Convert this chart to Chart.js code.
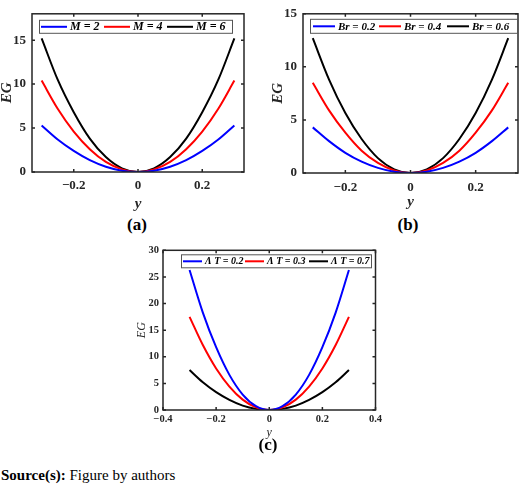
<!DOCTYPE html>
<html>
<head>
<meta charset="utf-8">
<script src="https://cdn.jsdelivr.net/npm/chart.js@4.4.1/dist/chart.umd.min.js"></script>
<style>
  body { margin: 0; background: #fff; width: 520px; height: 486px; position: relative; overflow: hidden; }
  canvas { position: absolute; }
  .cap { position: absolute; font: bold 17px 'Liberation Serif', serif; transform: translate(-50%, -50%); color: #000; }
  .source { position: absolute; left: 1px; top: 467px; font: 15px 'Liberation Serif', serif; color: #000; }
</style>
</head>
<body>
<canvas id="chartA" width="252" height="215" style="left:0;top:0"></canvas>
<canvas id="chartB" width="249" height="215" style="left:271px;top:0"></canvas>
<canvas id="chartC" width="259" height="200" style="left:133px;top:240px"></canvas>
<div class="cap" style="left:137px;top:225px">(a)</div>
<div class="cap" style="left:408px;top:225px">(b)</div>
<div class="cap" style="left:268px;top:445px">(c)</div>
<div class="source"><b>Source(s):</b> Figure by authors</div>

<script>
// y positions where the curves were read
const yPos = [-0.3, -0.25, -0.2, -0.15, -0.1, -0.05, 0, 0.05, 0.1, 0.15, 0.2, 0.25, 0.3];

// (a) EG for M = 2, 4, 6
const egM2 = [5.3, 3.7, 2.4, 1.35, 0.6, 0.15, 0, 0.15, 0.6, 1.35, 2.4, 3.7, 5.3];
const egM4 = [10.4, 7.2, 4.6, 2.6, 1.15, 0.3, 0, 0.3, 1.15, 2.6, 4.6, 7.2, 10.4];
const egM6 = [15.2, 10.5, 6.8, 3.8, 1.7, 0.42, 0, 0.42, 1.7, 3.8, 6.8, 10.5, 15.2];

// (b) EG for Br = 0.2, 0.4, 0.6
const egBr02 = [4.3, 3.0, 1.9, 1.07, 0.48, 0.12, 0, 0.12, 0.48, 1.07, 1.9, 3.0, 4.3];
const egBr04 = [8.5, 5.9, 3.8, 2.1, 0.95, 0.24, 0, 0.24, 0.95, 2.1, 3.8, 5.9, 8.5];
const egBr06 = [12.7, 8.8, 5.65, 3.2, 1.4, 0.35, 0, 0.35, 1.4, 3.2, 5.65, 8.8, 12.7];

// (c) EG for ΛT = 0.2, 0.3, 0.7
const egT02 = [26.3, 18.3, 11.8, 6.6, 2.9, 0.73, 0, 0.73, 2.9, 6.6, 11.8, 18.3, 26.3];
const egT03 = [17.5, 12.2, 7.8, 4.4, 1.95, 0.49, 0, 0.49, 1.95, 4.4, 7.8, 12.2, 17.5];
const egT07 = [7.5, 5.2, 3.35, 1.9, 0.83, 0.21, 0, 0.21, 0.83, 1.9, 3.35, 5.2, 7.5];

const labelsA = ['M = 2', 'M = 4', 'M = 6'];
const labelsB = ['Br = 0.2', 'Br = 0.4', 'Br = 0.6'];
const labelsC = ['\u039B T = 0.2', '\u039B T = 0.3', '\u039B T = 0.7'];

const colors = ['#0000ff', '#ff0000', '#000000'];
const SERIF = "'Liberation Serif', serif";

// MATLAB-like box, inward ticks and boxed legend
const matlabBox = {
  id: 'matlabBox',
  afterDatasetsDraw(chart, args, opts) {
    const { ctx, chartArea: a, scales: { x, y } } = chart;
    ctx.save();
    ctx.strokeStyle = '#262626';
    ctx.lineWidth = opts.lineWidth;
    ctx.strokeRect(a.left, a.top, a.right - a.left, a.bottom - a.top);
    const t = opts.tickLen;
    ctx.beginPath();
    x.ticks.forEach(tk => {
      const px = x.getPixelForValue(tk.value);
      ctx.moveTo(px, a.bottom); ctx.lineTo(px, a.bottom - t);
      ctx.moveTo(px, a.top); ctx.lineTo(px, a.top + t);
    });
    y.ticks.forEach(tk => {
      const py = y.getPixelForValue(tk.value);
      ctx.moveTo(a.left, py); ctx.lineTo(a.left + t, py);
      ctx.moveTo(a.right, py); ctx.lineTo(a.right - t, py);
    });
    ctx.stroke();

    const L = opts.legend;
    const bx = a.left + L.dx, by = a.top + L.dy;
    ctx.fillStyle = '#fff';
    ctx.fillRect(bx, by, L.w, L.h);
    ctx.lineWidth = 1;
    ctx.strokeStyle = '#555';
    ctx.strokeRect(bx + 0.5, by + 0.5, L.w, L.h);
    ctx.font = L.font;
    ctx.textBaseline = 'middle';
    const cy = by + L.h / 2 + 0.5;
    chart.data.datasets.forEach((ds, i) => {
      const lx = bx + L.offsets[i];
      ctx.strokeStyle = ds.borderColor;
      ctx.lineWidth = 2;
      ctx.beginPath();
      ctx.moveTo(lx, cy); ctx.lineTo(lx + L.lineLen, cy);
      ctx.stroke();
      ctx.fillStyle = '#000';
      ctx.fillText(ds.label, lx + L.lineLen + 3, cy + 0.5);
    });
    ctx.restore();
  }
};

function fmt(v) {
  const n = Number(v.toFixed(2));
  return n < 0 ? '\u2212' + Math.abs(n) : String(n);
}

function makeChart(id, series, labels, s) {
  const datasets = series.map((arr, i) => ({
    label: labels[i],
    data: yPos.map((yv, j) => ({ x: yv, y: arr[j] })),
    borderColor: colors[i],
    borderWidth: 2,
    pointRadius: 0,
    fill: false,
    cubicInterpolationMode: 'monotone'
  }));
  return new Chart(document.getElementById(id), {
    type: 'line',
    data: { datasets },
    options: {
      responsive: false,
      animation: false,
      layout: { padding: s.padding },
      plugins: {
        legend: { display: false },
        tooltip: { enabled: false },
        matlabBox: { lineWidth: 1.5, tickLen: 3, legend: s.legend }
      },
      scales: {
        x: {
          type: 'linear',
          min: s.xMin, max: s.xMax,
          grid: { display: false, drawTicks: false, tickLength: 0 },
          border: { display: false },
          afterFit: sc => { sc.height = s.xH; },
          ticks: {
            stepSize: 0.2, includeBounds: false, autoSkip: false, maxRotation: 0,
            color: '#262626', padding: s.xPad,
            font: { family: SERIF, size: s.tickSize, weight: 'bold' },
            callback: v => fmt(v)
          },
          title: {
            display: true, text: 'y', color: '#262626',
            padding: { top: 0, bottom: s.xTitlePad },
            font: { family: SERIF, size: s.titleSize, weight: s.titleWeight, style: 'italic' }
          }
        },
        y: {
          min: 0, max: s.yMax,
          grid: { display: false, drawTicks: false, tickLength: 0 },
          border: { display: false },
          afterFit: sc => { sc.width = s.yW; },
          ticks: {
            stepSize: 5, includeBounds: false, autoSkip: false,
            color: '#262626', padding: s.yPad,
            font: { family: SERIF, size: s.tickSize, weight: 'bold' },
            callback: v => fmt(v)
          },
          title: {
            display: true, text: 'EG', color: '#262626',
            padding: { top: s.yTitlePad, bottom: 0 },
            font: { family: SERIF, size: s.titleSize, weight: s.titleWeight, style: 'italic', lineHeight: 1 }
          }
        }
      }
    },
    plugins: [matlabBox]
  });
}

makeChart('chartA', [egM2, egM4, egM6], labelsA, {
  padding: { top: 4, right: 8, left: 0, bottom: 0 },
  xMin: -0.33, xMax: 0.33, yMax: 18, yW: 32, xH: 43,
  tickSize: 13, titleSize: 15, titleWeight: 'bold',
  xPad: 6, yPad: 6, xTitlePad: 2, yTitlePad: 0,
  legend: { dx: 7, dy: 6, w: 193, h: 13, offsets: [2, 65, 128], lineLen: 26,
            font: "bold italic 12px 'Liberation Serif'" }
});

makeChart('chartB', [egBr02, egBr04, egBr06], labelsB, {
  padding: { top: 5, right: 2, left: 0, bottom: 0 },
  xMin: -0.33, xMax: 0.33, yMax: 15, yW: 32, xH: 42,
  tickSize: 13, titleSize: 15, titleWeight: 'bold',
  xPad: 7, yPad: 6, xTitlePad: 4, yTitlePad: 0,
  legend: { dx: 7, dy: 5, w: 207, h: 14, offsets: [3, 69, 137], lineLen: 22,
            font: "bold italic 11px 'Liberation Serif'" }
});

makeChart('chartC', [egT02, egT03, egT07], labelsC, {
  padding: { top: 8, right: 16.5, left: 0, bottom: 0 },
  xMin: -0.4, xMax: 0.4, yMax: 30, yW: 30, xH: 30,
  tickSize: 10.5, titleSize: 12, titleWeight: 'normal',
  xPad: 3, yPad: 4, xTitlePad: 0, yTitlePad: 3,
  legend: { dx: 18, dy: 4, w: 190, h: 13, offsets: [2, 64, 128], lineLen: 19,
            font: "bold italic 10px 'Liberation Serif'" }
});
</script>
</body>
</html>
